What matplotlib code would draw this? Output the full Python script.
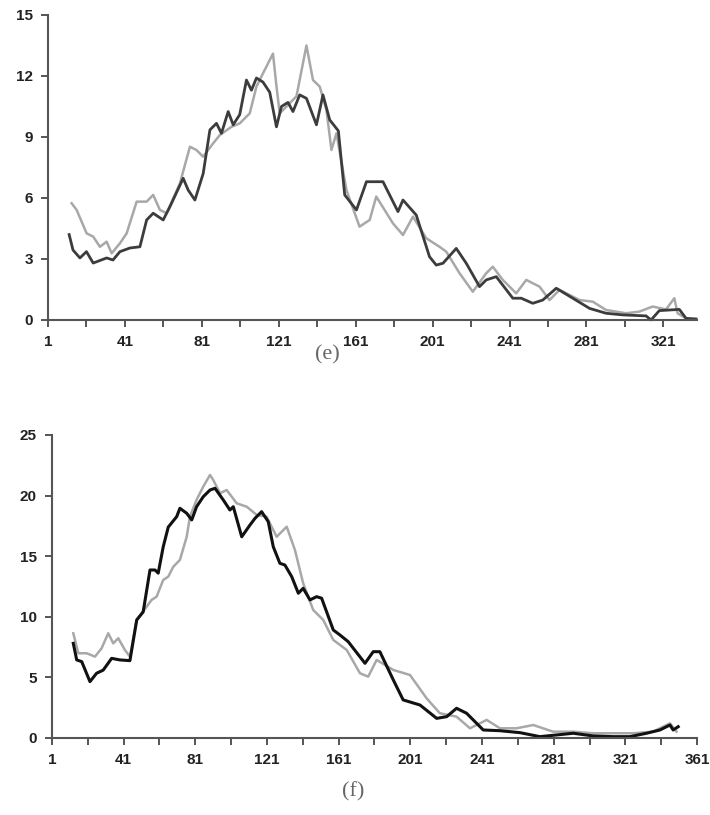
import matplotlib.pyplot as plt

# --- painel (e) ---
e_dark_x = [12, 14, 17.6, 21, 24.5, 31.5, 34.8, 38.4, 43.6, 48.8, 52.3, 55.7, 60.9, 64.4,
            71.3, 73.9, 77.4, 81.7, 85.2, 88.6, 91.2, 94.7, 97.3, 100.7, 104.2, 106.8,
            109.4, 112.8, 116.3, 119.8, 122.4, 125.8, 128.4, 131.9, 135.4, 140.6, 144,
            147.5, 152, 155.3, 161.4, 166.6, 175.2, 183, 185.6, 192.5, 199.4, 202.9,
            206.4, 213.3, 218.5, 225.4, 228.9, 234.1, 242.7, 247.1, 253.1, 258.3, 265.3,
            273.9, 282.6, 291.2, 299.9, 312, 314.6, 318.9, 329.3, 332.8, 338]
e_dark_y = [4.2, 3.44, 3.05, 3.36, 2.8, 3.05, 2.95, 3.36, 3.54, 3.6, 4.92, 5.25, 4.92, 5.57,
            6.97, 6.39, 5.9, 7.2, 9.35, 9.67, 9.18, 10.25, 9.6, 10.1, 11.8, 11.3,
            11.9, 11.7, 11.2, 9.5, 10.5, 10.7, 10.25, 11.07, 10.9, 9.6, 11.07,
            9.84, 9.3, 6.15, 5.41, 6.8, 6.8, 5.33, 5.9, 5.16, 3.11, 2.7,
            2.79, 3.52, 2.79, 1.64, 1.97, 2.13, 1.07, 1.07, 0.82, 0.98, 1.56,
            1.07, 0.57, 0.33, 0.25, 0.2, 0.0, 0.46, 0.52, 0.08, 0.05]

e_grey_x = [13.3, 15.9, 21.1, 24.5, 28, 31.5, 34.1, 38.4, 41.9, 47.1, 52.3, 55.7, 59.2,
            62.7, 69.6, 74.8, 78.2, 81.7, 86.9, 90.4, 96.4, 100.7, 105.9, 109.4, 112.8,
            118, 119.8, 121.5, 125, 130.2, 135.4, 138.8, 142.3, 145.8, 148.4, 151, 156.2,
            163, 168.3, 171.7, 180.4, 185.6, 190.8, 197.7, 204.6, 208.1, 215, 221.9,
            228.9, 232.3, 237.5, 244.5, 249.7, 256.6, 261.8, 267, 277.4, 284.3, 291.2,
            301.6, 308.5, 315.4, 322.4, 326.7, 328.4, 332.8]
e_grey_y = [5.74, 5.41, 4.26, 4.1, 3.6, 3.85, 3.28, 3.77, 4.26, 5.82, 5.82, 6.15, 5.41,
            5.25, 6.72, 8.52, 8.36, 8.03, 8.69, 9.1, 9.5, 9.67, 10.16, 11.48, 12.13,
            13.1, 11.5, 10.16, 10.5, 11.0, 13.5, 11.8, 11.48, 10.33, 8.36, 9.18, 6.39,
            4.59, 4.92, 6.07, 4.75, 4.18, 5.08, 4.02, 3.6, 3.36, 2.3, 1.39,
            2.3, 2.62, 1.97, 1.31, 1.97, 1.64, 0.98, 1.48, 0.98, 0.9, 0.49,
            0.33, 0.41, 0.66, 0.52, 1.07, 0.33, 0.08]

# --- painel (f) ---
f_dark_x = [12.9, 14.8, 17.6, 22.2, 25.9, 29.6, 34.3, 38.9, 44.5, 48.3, 51.9, 55.7, 58.5,
            60.3, 63.1, 65.9, 70.6, 72.4, 76.2, 79, 81.7, 85.4, 89.2, 92, 96.6, 100.3,
            102.2, 106.9, 111.5, 114.3, 118, 121.7, 124.5, 128.2, 131, 134.8, 138.5,
            141.2, 145, 148.7, 151.5, 158, 161.7, 166.3, 175.7, 180.3, 184, 191.5, 197,
            206.4, 215.7, 221.3, 226.8, 232.4, 241.7, 251, 262.2, 273.3, 282.6, 291.9,
            303, 314.2, 323.5, 332.8, 340.3, 345.9, 347.7, 350.5]
f_dark_y = [7.81, 6.44, 6.3, 4.65, 5.34, 5.6, 6.57, 6.44, 6.38, 9.74, 10.4, 13.86, 13.86,
            13.6, 15.78, 17.4, 18.26, 18.95, 18.54, 17.99, 19.08, 19.9, 20.46, 20.6, 19.64, 18.81,
            19.08, 16.6, 17.57, 18.12, 18.67, 17.85, 15.78, 14.41, 14.27, 13.31, 11.94,
            12.35, 11.39, 11.66, 11.53, 8.91, 8.5, 7.95, 6.16, 7.12, 7.12, 4.79, 3.14,
            2.72, 1.62, 1.76, 2.45, 2.04, 0.66, 0.6, 0.44, 0.11, 0.25, 0.39,
            0.17, 0.11, 0.11, 0.39, 0.66, 1.07, 0.66, 0.93]

f_grey_x = [12.9, 15.7, 20.4, 25, 28.7, 32.4, 35.2, 38, 41.7, 44.5, 48.3, 53.8, 56.6, 59.4,
            63.1, 65.9, 68.7, 72.4, 76.2, 78, 81.7, 85.4, 89.2, 91, 94.8, 98.5, 104.1,
            109.7, 115.3, 120.8, 126.4, 132, 136.6, 141.2, 146.8, 152.4, 158, 165.5,
            172.9, 177.5, 182.2, 191.5, 200.8, 210.1, 217.5, 226.8, 234.3, 243.6, 251,
            260.3, 269.6, 280.7, 291.9, 303, 314.2, 325.4, 336.5, 345.9, 349.6]
f_grey_y = [8.64, 6.99, 6.99, 6.71, 7.4, 8.64, 7.81, 8.23, 7.26, 6.71, 9.74, 10.83, 11.39, 11.66,
            13.04, 13.31, 14.13, 14.69, 16.6, 18.26, 19.64, 20.73, 21.7, 21.29, 20.19, 20.46, 19.36,
            19.08, 18.4, 18.26, 16.6, 17.43, 15.51, 12.76, 10.56, 9.74, 8.09, 7.26,
            5.34, 5.06, 6.44, 5.61, 5.2, 3.27, 2.04, 1.76, 0.8, 1.49, 0.8,
            0.8, 1.07, 0.52, 0.52, 0.39, 0.39, 0.39, 0.52, 1.21, 0.52]

e_yticks = [0, 3, 6, 9, 12, 15]
f_yticks = [0, 5, 10, 15, 20, 25]
e_xticklabels = [1, 41, 81, 121, 161, 201, 241, 281, 321]
f_xticklabels = [1, 41, 81, 121, 161, 201, 241, 281, 321, 361]

plt.rcParams['font.family'] = ['Liberation Sans', 'DejaVu Sans']

fig = plt.figure(figsize=(7.1, 8.15), dpi=100)
ax_e = fig.add_axes([0.0676, 0.6074, 0.9141, 0.3742])
ax_f = fig.add_axes([0.0732, 0.0945, 0.9085, 0.3718])


def estilo(ax, xmax, ymax, yticks, xlabels):
    ax.set_xlim(1, xmax)
    ax.set_ylim(0, ymax)
    for lado in ['top', 'right']:
        ax.spines[lado].set_visible(False)
    for lado in ['left', 'bottom']:
        ax.spines[lado].set_color('#555555')
        ax.spines[lado].set_linewidth(1.5)
    ax.set_yticks(yticks)
    ax.set_xticks(list(range(1, int(xmax) + 1, 20)))
    ax.set_xticklabels([str(v) if v in xlabels else '' for v in range(1, int(xmax) + 1, 20)])
    ax.tick_params(direction='out', length=5, width=1.4, color='#555555',
                   labelsize=11, labelcolor='#222222', pad=6)
    for t in ax.get_xticklabels() + ax.get_yticklabels():
        t.set_fontweight('bold')


ax_e.plot(e_grey_x, e_grey_y, color='#a8a8a8', lw=1.8, clip_on=False)
ax_e.plot(e_dark_x, e_dark_y, color='#3c3c3c', lw=2.0, clip_on=False)
estilo(ax_e, 338.5, 15, e_yticks, e_xticklabels)

ax_f.plot(f_grey_x, f_grey_y, color='#a8a8a8', lw=1.8, clip_on=False)
ax_f.plot(f_dark_x, f_dark_y, color='#111111', lw=2.2, clip_on=False)
estilo(ax_f, 361, 25, f_yticks, f_xticklabels)

fig.text(327 / 710, 1 - 355 / 815, '(e)', ha='center', va='center', fontsize=16,
         family=['Liberation Serif', 'DejaVu Serif'], color='#666666')
fig.text(353 / 710, 1 - 792 / 815, '(f)', ha='center', va='center', fontsize=16,
         family=['Liberation Serif', 'DejaVu Serif'], color='#666666')

fig.savefig('out.png', dpi=100)
